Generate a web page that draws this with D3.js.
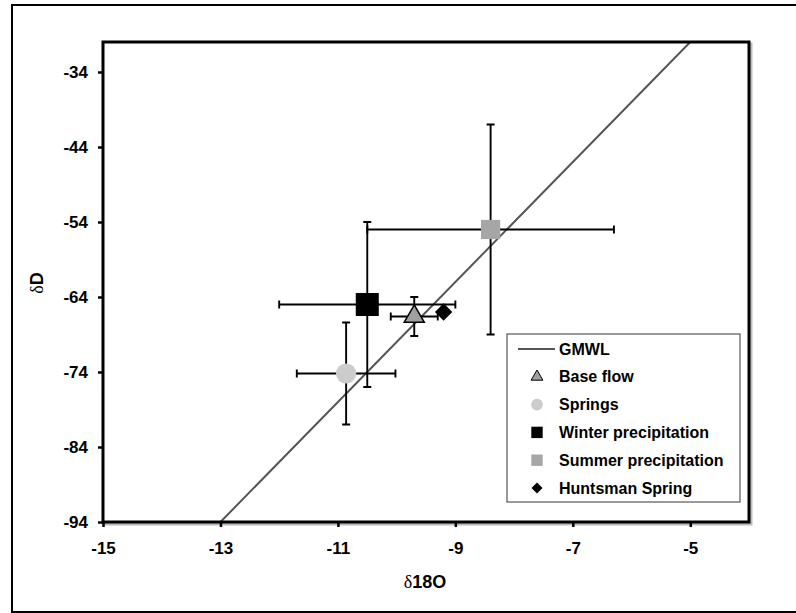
<!DOCTYPE html>
<html>
<head>
<meta charset="utf-8">
<script src="https://cdn.jsdelivr.net/npm/d3@7"></script>
<style>
    body { margin: 0; background: #fff; }
    svg { display: block; font-family: "Liberation Sans", Arial, sans-serif; }
    .tick text { font-weight: bold; }
</style>
</head>
<body>
<div id="isotope-chart"></div>
<script>
// series (legend order)
const seriesNames = ["Base flow", "Springs", "Winter precipitation", "Summer precipitation", "Huntsman Spring"];
const d18O = [-9.7, -10.86, -10.5, -8.4, -9.2];
const dD = [-66.6, -74.2, -65, -55, -66];
const d18OErr = [0.4, 0.84, 1.5, 2.1, 0];
const dDErr = [2.6, 6.8, 11, 14, 0];

// GMWL end points
const gmwlX = [-13, -5];
const gmwlY = [-94, -30];

// ticks
const xTicks = [-15, -13, -11, -9, -7, -5];
const yTicks = [-94, -84, -74, -64, -54, -44, -34];

render();

function render() {
    const divID = d3.select('#isotope-chart');
    scatter_chart(divID, {
        width: 796,
        height: 613,
        margin: { top: 42, bottom: 91, left: 103, right: 47 }
    });
}

function scatter_chart(selection, props) {
    const { width, height, margin } = props;
    const innerW = width - margin.left - margin.right;
    const innerH = height - margin.top - margin.bottom;

    const svg = selection.append('svg')
        .attr('width', width)
        .attr('height', height);

    // outer chart border
    svg.append('rect')
        .attr('x', 12).attr('y', 5)
        .attr('width', 800).attr('height', 607)
        .attr('fill', 'none')
        .attr('stroke', '#000')
        .attr('stroke-width', 2);

    const x = d3.scaleLinear().domain([-15, -4]).range([0, innerW]);
    const y = d3.scaleLinear().domain([-94, -30]).range([innerH, 0]);

    const g = svg.append('g')
        .attr('transform', `translate(${margin.left},${margin.top})`);

    g.append('clipPath').attr('id', 'plot-clip')
        .append('rect').attr('width', innerW).attr('height', innerH);

    // shadow of plot frame
    g.append('rect')
        .attr('x', 2).attr('y', 2)
        .attr('width', innerW).attr('height', innerH)
        .attr('fill', 'none')
        .attr('stroke', '#bbb')
        .attr('stroke-width', 3);
    g.append('rect')
        .attr('width', innerW).attr('height', innerH)
        .attr('fill', '#fff');

    // axes (plain hyphen minus like the original)
    const fmt = d => String(d);
    const xAxis = g.append('g')
        .attr('transform', `translate(0,${innerH})`)
        .call(d3.axisBottom(x).tickValues(xTicks).tickFormat(fmt).tickSize(5).tickPadding(15));
    const yAxis = g.append('g')
        .call(d3.axisLeft(y).tickValues(yTicks).tickFormat(fmt).tickSize(5).tickPadding(10));

    [xAxis, yAxis].forEach(function (a) {
        a.attr('font-family', '"Liberation Sans", Arial, sans-serif')
            .attr('font-size', 17)
            .attr('font-weight', 'bold');
        a.select('.domain').remove();
        a.selectAll('line').attr('stroke', '#000').attr('stroke-width', 2.5);
        a.selectAll('text').attr('fill', '#000');
    });

    // GMWL
    g.append('line')
        .attr('clip-path', 'url(#plot-clip)')
        .attr('x1', x(gmwlX[0])).attr('y1', y(gmwlY[0]))
        .attr('x2', x(gmwlX[1])).attr('y2', y(gmwlY[1]))
        .attr('stroke', '#555')
        .attr('stroke-width', 2);

    const data = seriesNames.map(function (name, i) {
        return { name: name, x: d18O[i], y: dD[i], ex: d18OErr[i], ey: dDErr[i] };
    });

    // error bars
    const cap = 4;
    const eb = g.append('g')
        .attr('stroke', '#000')
        .attr('stroke-width', 1.9)
        .attr('fill', 'none');
    data.filter(d => d.ex > 0).forEach(function (d) {
        const p = d3.path();
        p.moveTo(x(d.x - d.ex), y(d.y)); p.lineTo(x(d.x + d.ex), y(d.y));
        p.moveTo(x(d.x - d.ex), y(d.y) - cap); p.lineTo(x(d.x - d.ex), y(d.y) + cap);
        p.moveTo(x(d.x + d.ex), y(d.y) - cap); p.lineTo(x(d.x + d.ex), y(d.y) + cap);
        p.moveTo(x(d.x), y(d.y - d.ey)); p.lineTo(x(d.x), y(d.y + d.ey));
        p.moveTo(x(d.x) - cap, y(d.y - d.ey)); p.lineTo(x(d.x) + cap, y(d.y - d.ey));
        p.moveTo(x(d.x) - cap, y(d.y + d.ey)); p.lineTo(x(d.x) + cap, y(d.y + d.ey));
        eb.append('path').attr('d', p.toString());
    });

    // marker styles
    const styles = {
        "Base flow": { type: d3.symbolTriangle, big: 175, small: 60, fill: '#a0a0a0', stroke: '#000', rot: 0 },
        "Springs": { type: d3.symbolCircle, big: 320, small: 110, fill: '#cccccc', stroke: 'none', rot: 0 },
        "Winter precipitation": { type: d3.symbolSquare, big: 530, small: 130, fill: '#000', stroke: 'none', rot: 0 },
        "Summer precipitation": { type: d3.symbolSquare, big: 370, small: 130, fill: '#a6a6a6', stroke: 'none', rot: 0 },
        "Huntsman Spring": { type: d3.symbolSquare, big: 150, small: 60, fill: '#000', stroke: 'none', rot: 45 }
    };

    g.selectAll('.marker')
        .data(data)
        .join('path')
        .attr('class', 'marker')
        .attr('d', d => d3.symbol().type(styles[d.name].type).size(styles[d.name].big)())
        .attr('transform', d => `translate(${x(d.x)},${y(d.y)}) rotate(${styles[d.name].rot})`)
        .attr('fill', d => styles[d.name].fill)
        .attr('stroke', d => styles[d.name].stroke)
        .attr('stroke-width', 1.5);

    // plot frame
    g.append('rect')
        .attr('width', innerW).attr('height', innerH)
        .attr('fill', 'none')
        .attr('stroke', '#000')
        .attr('stroke-width', 3);

    // LEGEND
    const lg = svg.append('g').attr('transform', 'translate(507,334)');
    lg.append('rect')
        .attr('width', 233).attr('height', 168)
        .attr('fill', '#fff')
        .attr('stroke', '#555')
        .attr('stroke-width', 1.2);
    const rowY = i => 15 + i * 27.8;
    lg.append('line')
        .attr('x1', 11).attr('x2', 48)
        .attr('y1', rowY(0)).attr('y2', rowY(0))
        .attr('stroke', '#555').attr('stroke-width', 2);
    lg.append('text')
        .attr('x', 52).attr('y', rowY(0)).attr('dy', '0.35em')
        .text('GMWL')
        .style('font-size', '16px').style('font-weight', 'bold');

    const rows = lg.selectAll('.lrow')
        .data(data)
        .join('g')
        .attr('class', 'lrow')
        .attr('transform', (d, i) => `translate(0,${rowY(i + 1)})`);
    rows.append('path')
        .attr('d', d => d3.symbol().type(styles[d.name].type).size(styles[d.name].small)())
        .attr('transform', d => `translate(30,0) rotate(${styles[d.name].rot})`)
        .attr('fill', d => styles[d.name].fill)
        .attr('stroke', d => styles[d.name].stroke)
        .attr('stroke-width', 1);
    rows.append('text')
        .attr('x', 52).attr('dy', '0.35em')
        .text(d => d.name)
        .style('font-size', '16px').style('font-weight', 'bold');

    // axis titles
    const xt = svg.append('text')
        .attr('x', 425).attr('y', 588)
        .attr('text-anchor', 'middle')
        .style('font-size', '18px').style('font-weight', 'bold');
    xt.append('tspan').style('font-family', '"Liberation Serif", serif').style('font-weight', 'normal').text('δ');
    xt.append('tspan').text('18O');

    const yt = svg.append('text')
        .attr('transform', 'translate(43,283) rotate(-90)')
        .attr('text-anchor', 'middle')
        .style('font-size', '18px').style('font-weight', 'bold');
    yt.append('tspan').style('font-family', '"Liberation Serif", serif').style('font-weight', 'normal').text('δ');
    yt.append('tspan').text('D');
}
</script>
</body>
</html>
